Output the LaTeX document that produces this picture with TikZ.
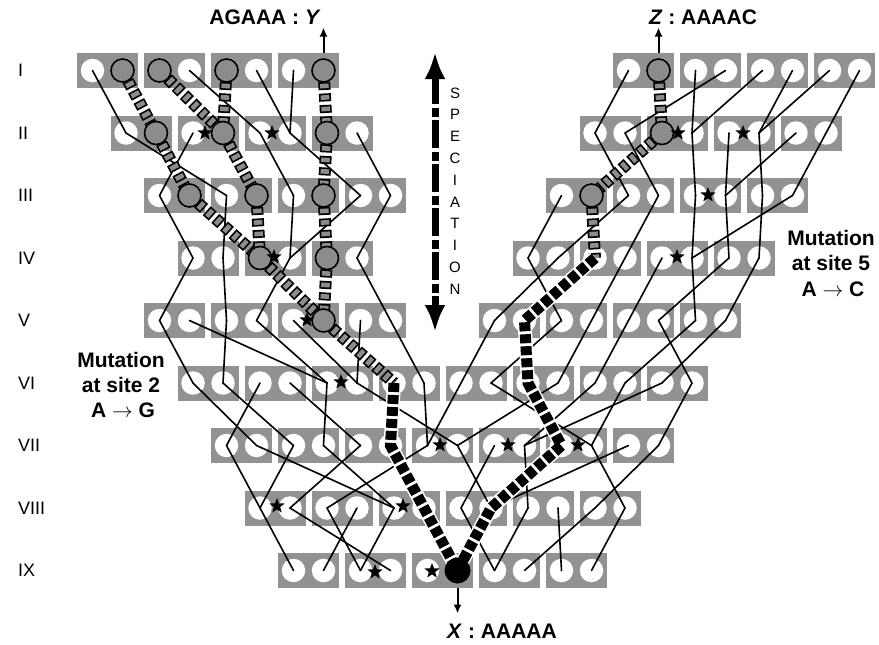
\documentclass[tikz,border=0pt]{standalone}
\usepackage{fontspec}
\setmainfont{Liberation Sans}
\usetikzlibrary{arrows.meta,shapes.geometric}
\definecolor{boxgray}{RGB}{146,146,146}
\definecolor{lingray}{RGB}{140,140,140}
\tikzset{
  cellbox/.style={rectangle, fill=boxgray, minimum width=61pt, minimum height=35pt, inner sep=0pt, outer sep=0pt},
  gene/.style={circle, fill=white, minimum size=23.5pt, inner sep=0pt, outer sep=0pt},
  graygene/.style={circle, fill=lingray, draw=black, line width=1.6pt, minimum size=23pt, inner sep=0pt},
  blackgene/.style={circle, fill=black, minimum size=26pt, inner sep=0pt},
  link/.style={line width=1.6pt, line cap=round, line join=round},
  ladderout/.style={line width=12pt, dash pattern=on 8pt off 3.5pt},
  ladderin/.style={line width=8.6pt, draw=lingray, dash pattern=on 4.6pt off 6.9pt, dash phase=9.8pt},
  blackpath/.style={line width=11pt, dash pattern=on 9pt off 3pt, preaction={draw=white, line width=14pt, solid}},
  starmark/.style={star, star points=5, star point ratio=2.4, fill=black, minimum size=16pt, inner sep=0pt},
  rowlab/.style={font=\fontsize{18}{20}\selectfont, anchor=west, inner sep=0pt},
  biglab/.style={font=\bfseries\fontsize{21}{24}\selectfont, anchor=base, inner sep=0pt},
  spletter/.style={font=\fontsize{15}{16}\selectfont, inner sep=0pt},
  smalltip/.style={line width=2pt, -{Latex[length=9pt,width=8pt]}},
}
\begin{document}
\begin{tikzpicture}[x=1pt,y=-1pt]
\useasboundingbox (0,0) rectangle (879,645);
% boxes and gene copies
\foreach \rw/\hs in {1/{0,2,4,6,16,18,20,22},2/{1,3,5,7,15,17,19,21},3/{2,4,6,8,14,16,18,20},4/{3,5,7,13,15,17,19},5/{2,4,6,8,12,14,16,18},6/{3,5,7,9,11,13,15,17},7/{4,6,8,10,12,14,16},8/{5,7,9,11,13,15},9/{6,8,10,12,14}}{
  \foreach \hh in \hs {
    \pgfmathsetmacro\bx{107.5+33.5*\hh}
    \pgfmathsetmacro\by{70.5+62.5*(\rw-1)}
    \node[cellbox] (b\rw h\hh) at (\bx,\by) {};
    \node[gene] (r\rw h\hh L) at (\bx-15,\by) {};
    \node[gene] (r\rw h\hh R) at (\bx+15,\by) {};
  }
}
% thin genealogy links
\foreach \a/\b in {
 r1h0L/r2h1L, r1h2R/r2h5L, r1h4R/r2h5R, r1h6L/r2h5R, r1h16L/r2h15L, r1h18L/r2h17R, r1h18R/r2h15R, r1h20L/r2h17R, r1h20R/r2h19R, r1h22L/r2h19R, r1h22R/r2h21R,
 r2h1L/r3h4L, r2h3L/r3h2L, r2h5L/r3h6L, r2h5R/r3h8L, r2h7R/r3h8R, r2h15L/r3h16L, r2h15R/r3h16R, r2h17R/r3h18L, r2h19L/r3h18R, r2h19R/r3h20L, r2h21L/r3h18R, r2h21R/r3h20R,
 r3h2L/r4h3L, r3h4L/r4h3R, r3h6L/r4h5R, r3h8L/r4h5R, r3h8R/r4h7R, r3h14L/r4h13L, r3h16L/r4h13R, r3h16R/r4h15R, r3h18L/r4h17R, r3h18R/r4h19L, r3h20L/r4h19R, r3h20R/r4h17R,
 r4h3L/r5h2L, r4h3R/r5h4L, r4h5R/r5h4R, r4h7R/r5h8R, r4h13L/r5h14L, r4h13R/r5h12L, r4h15R/r5h14R, r4h17L/r5h16L, r4h17R/r5h18L, r4h19L/r5h16R, r4h19R/r5h18R,
 r5h2L/r6h3L, r5h2R/r6h7L, r5h4L/r6h3R, r5h4R/r6h7L, r5h6L/r6h7R, r5h8L/r6h7R, r5h8R/r6h9R, r5h12L/r6h11L, r5h14L/r6h11R, r5h14R/r6h13R, r5h16L/r6h15L, r5h16R/r6h17R, r5h18L/r6h15R, r5h18R/r6h17L,
 r6h3L/r7h4R, r6h3R/r7h6L, r6h5L/r7h4L, r6h5R/r7h8L, r6h7L/r7h6R, r6h7R/r7h10R, r6h9R/r7h10L, r6h11L/r7h10L, r6h11R/r7h14R, r6h13R/r7h10R, r6h15L/r7h12R, r6h15R/r7h14R, r6h17L/r7h12R, r6h17R/r7h16R,
 r7h4L/r8h5L, r7h4R/r8h9L, r7h6L/r8h5L, r7h6R/r8h9L, r7h8L/r8h5R, r7h10L/r8h7L, r7h10R/r8h11R, r7h12L/r8h11L, r7h12R/r8h13L, r7h14R/r8h15R, r7h16L/r8h11R, r7h16R/r8h15L,
 r8h5L/r9h6L, r8h5R/r9h8R, r8h7L/r9h8L, r8h7R/r9h6R, r8h9L/r9h8L, r8h11L/r9h12L, r8h13L/r9h12L, r8h13R/r9h14L, r8h15L/r9h12R, r8h15R/r9h14R}
 {\draw[link] (\a.center) -- (\b.center);}
% sampled lineages (ladders)
\foreach \a/\b in {r1h0R/r2h1R, r2h1R/r3h2R, r3h2R/r4h5L, r1h2L/r2h3R, r1h4L/r2h3R, r2h3R/r3h4R, r3h4R/r4h5L, r4h5L/r5h6R, r1h6R/r2h7L, r2h7L/r3h6R, r3h6R/r4h7L, r4h7L/r5h6R, r5h6R/r6h9L, r1h16R/r2h17L, r2h17L/r3h14R, r3h14R/r4h15L}
 {\draw[ladderout] (\a.center) -- (\b.center);
  \draw[ladderin] (\a.center) -- (\b.center);}
% ancestral lineages
\draw[blackpath] (r6h9L.center) -- (r7h8R.center) -- (r8h9R.center) -- (r9h10R.center);
\draw[blackpath] (r4h15L.center) -- (r5h12R.center) -- (r6h13L.center) -- (r7h14L.center) -- (r8h11R.center) -- (r9h10R.center);
% gray sampled gene copies
\foreach \g in {r1h0R, r1h2L, r1h4L, r1h6R, r2h1R, r2h3R, r2h7L, r3h2R, r3h4R, r3h6R, r4h5L, r4h7L, r5h6R, r1h16R, r2h17L, r3h14R}
 {\node[graygene] (g\g) at (\g.center) {};}
\node[blackgene] (xnode) at (r9h10R.center) {};
% mutation stars
\foreach \sx/\sy [count=\i] in {205/133, 272/133, 678/133, 743/133, 708/195, 274/257, 677/257, 307/320, 341/382, 440/445, 508/445, 578/445, 277/506, 403/506, 375/572, 432/571}
 {\node[starmark] (star\i) at (\sx,\sy) {};}
% sample arrows and labels
\path (r1h6R.center) ++(0,-43) coordinate (ytip);
\path (r1h16R.center) ++(0,-43) coordinate (ztip);
\path (r9h10R.center) ++(0,43) coordinate (xtip);
\draw[smalltip] (b1h6.north -| r1h6R.center) -- (ytip);
\draw[smalltip] (b1h16.north -| r1h16R.center) -- (ztip);
\draw[smalltip] (b9h10.south -| r9h10R.center) -- (xtip);
\node[biglab] (ylab) at (265,24) {AGAAA : \textit{Y}};
\node[biglab] (zlab) at (703,24) {\textit{Z} : AAAAC};
\node[biglab] (xlab) at (502,638) {\textit{X} : AAAAA};
% mutation notes
\node[biglab] (m2a) at (121,367) {Mutation};
\node[biglab] (m2b) at (121,392) {at site 2};
\node[biglab] (m2c) at (123,417) {A $\rightarrow$ G};
\node[biglab] (m5a) at (831,245) {Mutation};
\node[biglab] (m5b) at (831,270) {at site 5};
\node[biglab] (m5c) at (833,296) {A $\rightarrow$ C};
% generation labels
\foreach \lab [count=\i] in {I,II,III,IV,V,VI,VII,VIII,IX}
 {\node[rowlab] (gen\i) at (18,{70.5+62.5*(\i-1)}) {\lab};}
% speciation arrow
\coordinate (sptop) at (435,52);
\coordinate (spbot) at (435,332);
\draw[{Latex[length=27pt,width=21pt]}-{Latex[length=27pt,width=21pt]}, line width=7pt, dash pattern=on 28pt off 3.5pt on 9pt off 3.5pt] (sptop) -- (spbot);
\foreach \ch [count=\i] in {S,P,E,C,I,A,T,I,O,N}
 {\node[spletter] (sp\i) at (455,{93+21.8*(\i-1)}) {\ch};}
\end{tikzpicture}
\end{document}
